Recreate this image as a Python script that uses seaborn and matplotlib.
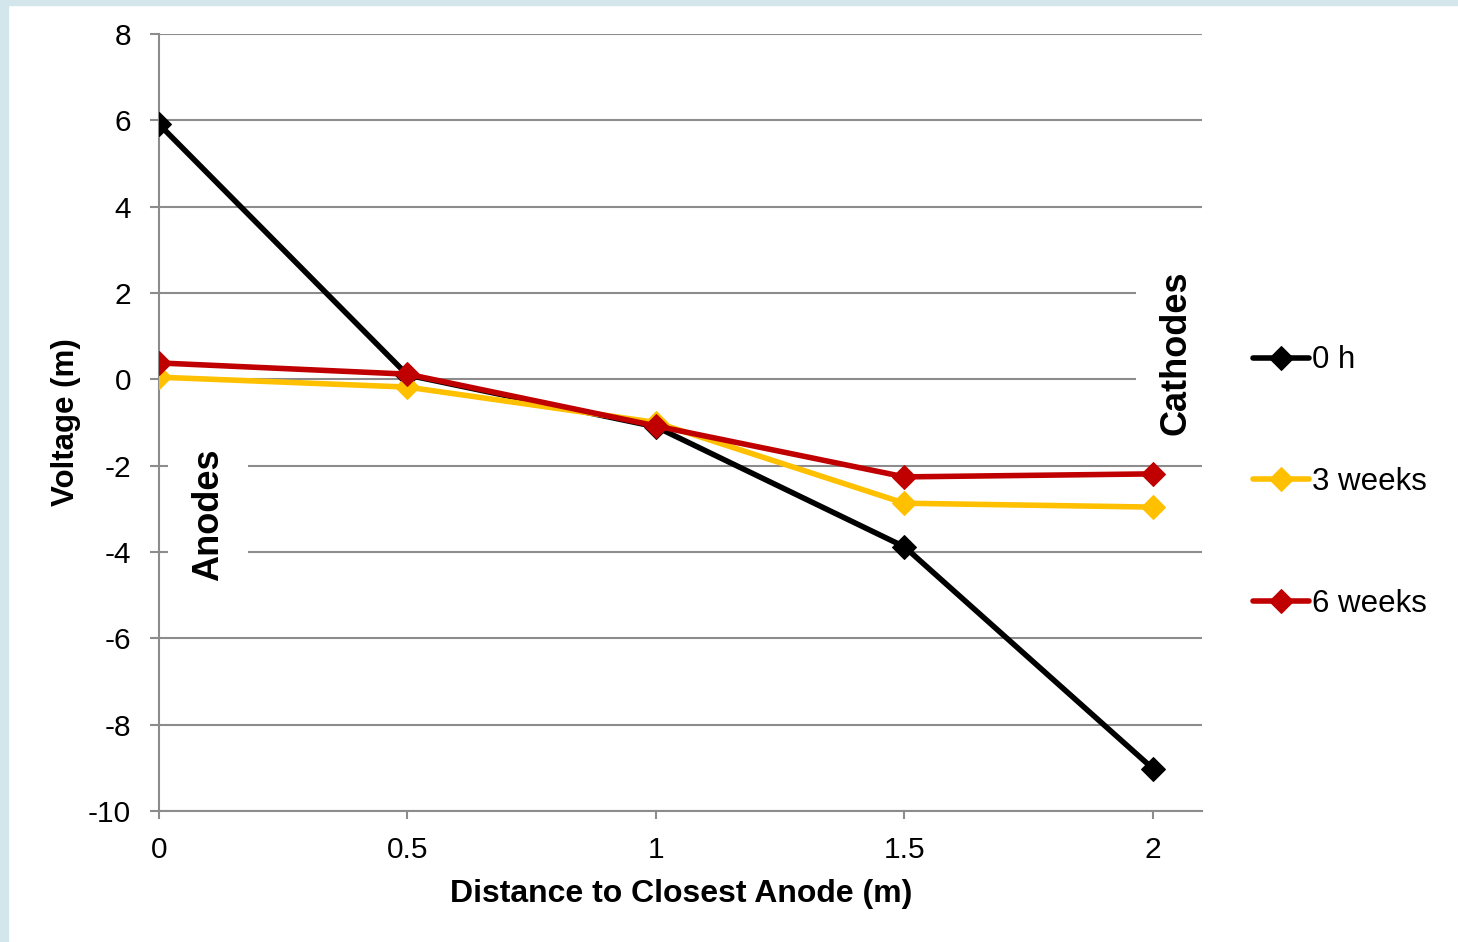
import numpy as np
import pandas as pd
import matplotlib
matplotlib.use("Agg")
import matplotlib.pyplot as plt
import seaborn as sns
from matplotlib.patches import Rectangle

# Data
distance = [0, 0.5, 1, 1.5, 2]
volt_0h = [5.91, 0.10, -1.10, -3.88, -9.02]
volt_3w = [0.05, -0.18, -1.00, -2.87, -2.96]
volt_6w = [0.38, 0.12, -1.08, -2.26, -2.19]
series_names = ["0 h", "3 weeks", "6 weeks"]
series_colors = ["#000000", "#FFC000", "#C00000"]

y_ticks = [8, 6, 4, 2, 0, -2, -4, -6, -8, -10]
x_ticks = [0, 0.5, 1, 1.5, 2]

sns.set_theme(style="white")
plt.rcParams["font.family"] = ["Liberation Sans", "DejaVu Sans"]
plt.rcParams["axes.unicode_minus"] = False
plt.rcParams["text.color"] = "black"
plt.rcParams["axes.labelcolor"] = "black"
plt.rcParams["xtick.color"] = "black"
plt.rcParams["ytick.color"] = "black"

grey = "#8C8C8C"

fig = plt.figure(figsize=(14.58, 9.42), dpi=100)
ax = fig.add_axes([159 / 1458, 1 - 811 / 942, (1202 - 159) / 1458, 777 / 942])

# light blue frame strips on the left and top edges
fig.patches.append(Rectangle((0, 0), 8 / 1458, 1, transform=fig.transFigure,
                             color="#D2E6EC", zorder=0))
fig.patches.append(Rectangle((0, 1 - 5 / 942), 1, 5 / 942, transform=fig.transFigure,
                             color="#D2E6EC", zorder=0))

df = pd.DataFrame({
    "distance": distance * 3,
    "voltage": volt_0h + volt_3w + volt_6w,
    "series": [s for s in series_names for _ in distance],
})

for name, color in zip(series_names, series_colors):
    sub = df[df["series"] == name]
    sns.lineplot(data=sub, x="distance", y="voltage", ax=ax, color=color,
                 linewidth=4.0, marker="D", markersize=12,
                 markeredgecolor=color, label=name, zorder=3)

ax.set_xlim(0, 2.0986)
ax.set_ylim(-10, 8)
ax.set_xticks(x_ticks)
ax.set_xticklabels(["0", "0.5", "1", "1.5", "2"])
ax.set_yticks(y_ticks)

ax.grid(axis="y", color=grey, linewidth=1.5, zorder=0)
ax.grid(axis="x", visible=False)
for side in ["top", "right"]:
    ax.spines[side].set_visible(False)
for side in ["left", "bottom"]:
    ax.spines[side].set_color(grey)
    ax.spines[side].set_linewidth(1.5)

ax.tick_params(axis="y", direction="out", length=6.5, width=1.5, color=grey,
               labelsize=21.5, pad=13.5, left=True, labelcolor="black")
ax.tick_params(axis="x", direction="out", length=6, width=1.5, color=grey,
               labelsize=21.5, pad=12, bottom=True, labelcolor="black")

ax.set_xlabel("Distance to Closest Anode (m)", fontsize=23, fontweight="bold")
ax.set_ylabel("Voltage (m)", fontsize=22.5, fontweight="bold")
ax.xaxis.set_label_coords(0.501, -0.088)
ax.yaxis.set_label_coords(-0.075, 0.5006)

box = dict(facecolor="white", edgecolor="none", pad=16)
ax.text(0.099, -3.14, "Anodes", rotation=90, ha="center", va="center",
        fontsize=26, fontweight="bold", bbox=box, zorder=2)
ax.text(2.046, 0.61, "Cathodes", rotation=90, ha="center", va="center",
        fontsize=26, fontweight="bold", bbox=box, zorder=2, clip_on=False)

ax.legend(loc="center left", bbox_to_anchor=(1253 / 1458, 1 - 482 / 942),
          bbox_transform=fig.transFigure, frameon=False, fontsize=22.5,
          handlelength=1.8, handletextpad=0.1, labelspacing=2.93,
          borderpad=0, borderaxespad=0)

fig.savefig("out.png", dpi=100)
